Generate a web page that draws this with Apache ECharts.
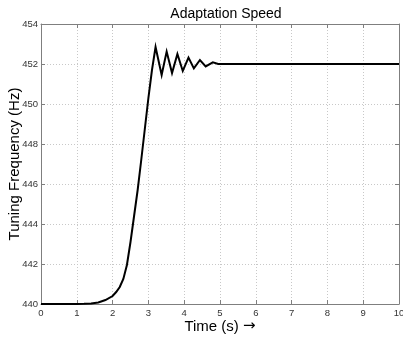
<!DOCTYPE html>
<html><head><meta charset="utf-8">
<script src="https://cdn.jsdelivr.net/npm/echarts@6/dist/echarts.min.js"></script>
<style>html,body{margin:0;padding:0;background:#fff}#c{width:403px;height:338px}</style>
</head><body><div id="c"></div>
<script>
const times = [0, 1.0, 1.2, 1.4, 1.6, 1.8, 2.0, 2.1, 2.2, 2.3, 2.4, 2.5, 2.6, 2.7, 2.8, 2.9, 3.0, 3.1, 3.2,
  3.37, 3.51, 3.66, 3.81, 3.96, 4.12, 4.27, 4.44, 4.6, 4.8, 4.95, 10];
const freqs = [440, 440, 440.01, 440.03, 440.08, 440.2, 440.4, 440.6, 440.85, 441.25, 441.95, 443.1, 444.4, 445.7, 447.2, 448.75, 450.3, 451.7, 452.85,
  451.45, 452.62, 451.55, 452.5, 451.65, 452.32, 451.78, 452.2, 451.88, 452.08, 452.0, 452];
const xTicks = [0,1,2,3,4,5,6,7,8,9,10];
const yTicks = [440,442,444,446,448,450,452,454];

const chart = echarts.init(document.getElementById('c'), null, {renderer:'canvas'});
const font = 'Liberation Sans, Arial, Helvetica, sans-serif';
const axisColor = '#7f7f7f';
const baseAxis = {
  axisLine:{show:true, onZero:false, lineStyle:{color:axisColor, width:1}},
  axisTick:{show:true, inside:true, length:4, lineStyle:{color:axisColor}},
  splitLine:{show:false}
};
chart.setOption({
  animation:false,
  backgroundColor:'#fff',
  title:{text:'Adaptation Speed', left:221, top:2, textAlign:'center',
    textStyle:{fontFamily:font, fontSize:14, fontWeight:'normal', color:'#000'}},
  grid:{left:41, right:4, top:24, bottom:34, containLabel:false, outerBoundsMode:'none'},
  xAxis:[
    Object.assign({}, baseAxis, {type:'value', min:0, max:10, interval:1, position:'bottom',
      name:'{t|Time (s) }{a|\u2192}', nameLocation:'middle', nameGap:15, nameMoveOverlap:false,
      nameTextStyle:{fontFamily:font, fontSize:15, color:'#000',
        rich:{t:{fontFamily:font, fontSize:15, color:'#000'}, a:{fontFamily:'DejaVu Sans', fontSize:15, color:'#000'}}},
      axisLabel:{show:true, fontFamily:font, fontSize:9.5, color:'#333', margin:4},
      splitLine:{show:true, lineStyle:{color:'#c8c8c8', type:[1,2], width:1}}}),
    Object.assign({}, baseAxis, {type:'value', min:0, max:10, interval:1, position:'top',
      axisLabel:{show:false}})
  ],
  yAxis:[
    Object.assign({}, baseAxis, {type:'value', min:440, max:454, interval:2, position:'left',
      name:'Tuning Frequency (Hz)', nameLocation:'middle', nameGap:19, nameRotate:90, nameMoveOverlap:false,
      nameTextStyle:{fontFamily:font, fontSize:15, color:'#000'},
      axisLabel:{show:true, fontFamily:font, fontSize:9.5, color:'#333', margin:3},
      splitLine:{show:true, lineStyle:{color:'#c8c8c8', type:[1,2], width:1}}}),
    Object.assign({}, baseAxis, {type:'value', min:440, max:454, interval:2, position:'right',
      axisLabel:{show:false}})
  ],
  series:[{
    type:'line', xAxisIndex:0, yAxisIndex:0,
    data: times.map((t,i)=>[t,freqs[i]]),
    showSymbol:false, symbol:'none', smooth:false,
    lineStyle:{color:'#000', width:2, join:'miter'}
  }]
});
</script></body></html>
